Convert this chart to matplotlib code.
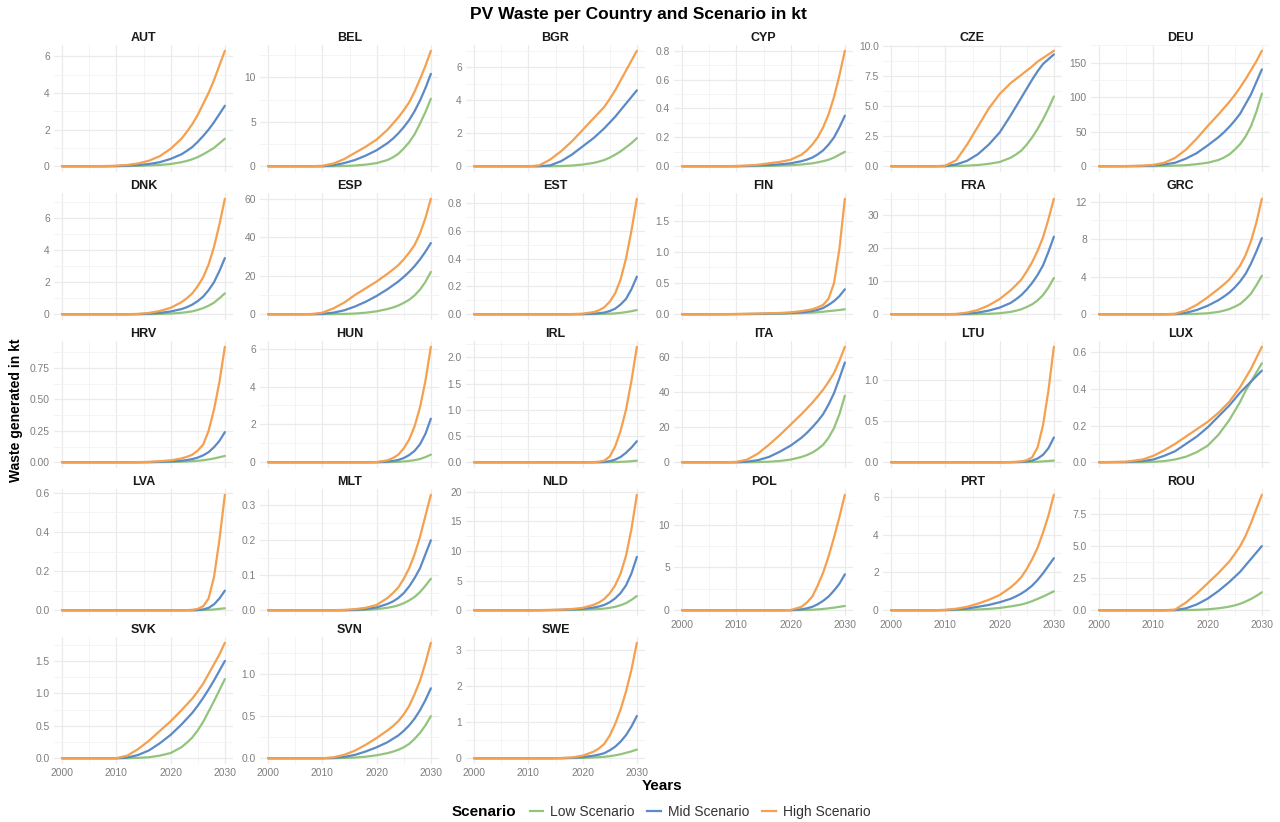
import matplotlib
matplotlib.use("Agg")
import matplotlib.pyplot as plt
from matplotlib.lines import Line2D
from matplotlib.ticker import FixedLocator, NullFormatter

plt.rcParams["font.family"] = ["Liberation Sans", "DejaVu Sans"]

# ---------------------------------------------------------------- data (kt)
YEARS = [2000, 2005, 2008, 2010, 2012, 2014, 2016, 2018, 2020, 2022,
         2023, 2024, 2025, 2026, 2027, 2028, 2029, 2030]

COUNTRIES = ["AUT", "BEL", "BGR", "CYP", "CZE", "DEU",
             "DNK", "ESP", "EST", "FIN", "FRA", "GRC",
             "HRV", "HUN", "IRL", "ITA", "LTU", "LUX",
             "LVA", "MLT", "NLD", "POL", "PRT", "ROU",
             "SVK", "SVN", "SWE"]

SCENARIOS = ["Low Scenario", "Mid Scenario", "High Scenario"]

LOW = {
    "AUT": [0, 0, 0, 0, 0.01, 0.02, 0.04, 0.07, 0.12, 0.22, 0.29, 0.38, 0.5, 0.65, 0.82, 1.0, 1.25, 1.5],
    "BEL": [0, 0, 0, 0, 0, 0.02, 0.08, 0.18, 0.35, 0.7, 1.0, 1.4, 2.0, 2.7, 3.6, 4.8, 6.1, 7.6],
    "BGR": [0, 0, 0, 0, 0, 0, 0.01, 0.04, 0.1, 0.2, 0.28, 0.38, 0.52, 0.7, 0.9, 1.15, 1.4, 1.7],
    "CYP": [0, 0, 0, 0, 0, 0.001, 0.002, 0.004, 0.007, 0.012, 0.016, 0.02, 0.027, 0.035, 0.045, 0.06, 0.08, 0.1],
    "CZE": [0, 0, 0, 0, 0.02, 0.05, 0.1, 0.2, 0.35, 0.7, 0.97, 1.3, 1.8, 2.4, 3.1, 3.9, 4.8, 5.8],
    "DEU": [0, 0, 0, 0.1, 0.3, 0.8, 1.5, 3, 5, 9, 12.5, 17, 24, 32, 43, 58, 79, 105],
    "DNK": [0, 0, 0, 0, 0, 0, 0.005, 0.015, 0.04, 0.09, 0.13, 0.18, 0.27, 0.38, 0.53, 0.72, 1.0, 1.3],
    "ESP": [0, 0, 0, 0, 0.05, 0.15, 0.35, 0.8, 1.5, 2.7, 3.5, 4.5, 5.9, 7.5, 9.8, 12.8, 16.8, 22],
    "EST": [0, 0, 0, 0, 0, 0, 0, 0, 0, 0.001, 0.0015, 0.002, 0.0038, 0.006, 0.01, 0.015, 0.022, 0.03],
    "FIN": [0, 0, 0, 0.001, 0.002, 0.003, 0.005, 0.008, 0.012, 0.018, 0.022, 0.026, 0.032, 0.04, 0.05, 0.058, 0.068, 0.08],
    "FRA": [0, 0, 0, 0, 0, 0, 0.03, 0.12, 0.3, 0.7, 1.05, 1.5, 2.2, 3, 4.2, 5.8, 8.1, 11],
    "GRC": [0, 0, 0, 0, 0, 0, 0.01, 0.04, 0.1, 0.25, 0.38, 0.55, 0.8, 1.1, 1.6, 2.2, 3.1, 4.1],
    "HRV": [0, 0, 0, 0, 0, 0, 0, 0.001, 0.002, 0.004, 0.0058, 0.008, 0.0115, 0.016, 0.022, 0.03, 0.04, 0.05],
    "HUN": [0, 0, 0, 0, 0, 0, 0, 0, 0, 0.005, 0.011, 0.02, 0.04, 0.07, 0.11, 0.17, 0.27, 0.4],
    "IRL": [0, 0, 0, 0, 0, 0, 0, 0, 0, 0, 0.0003, 0.001, 0.0022, 0.004, 0.007, 0.012, 0.02, 0.03],
    "ITA": [0, 0, 0, 0, 0, 0.1, 0.3, 0.7, 1.5, 3, 4.1, 5.5, 7.5, 10, 14, 19.5, 27.5, 38],
    "LTU": [0, 0, 0, 0, 0, 0, 0, 0, 0, 0, 0.0004, 0.001, 0.0018, 0.003, 0.006, 0.01, 0.015, 0.02],
    "LUX": [0, 0, 0, 0.002, 0.006, 0.015, 0.03, 0.055, 0.09, 0.15, 0.19, 0.23, 0.28, 0.33, 0.39, 0.44, 0.49, 0.54],
    "LVA": [0, 0, 0, 0, 0, 0, 0, 0, 0, 0, 0, 0, 0.0003, 0.001, 0.002, 0.004, 0.007, 0.01],
    "MLT": [0, 0, 0, 0, 0, 0, 0, 0.001, 0.003, 0.007, 0.01, 0.014, 0.02, 0.028, 0.038, 0.052, 0.07, 0.09],
    "NLD": [0, 0, 0, 0, 0, 0.01, 0.02, 0.04, 0.08, 0.15, 0.2, 0.28, 0.4, 0.58, 0.85, 1.2, 1.75, 2.4],
    "POL": [0, 0, 0, 0, 0, 0, 0, 0, 0, 0.02, 0.038, 0.06, 0.1, 0.15, 0.22, 0.3, 0.4, 0.5],
    "PRT": [0, 0, 0, 0, 0.01, 0.02, 0.04, 0.07, 0.12, 0.2, 0.25, 0.3, 0.38, 0.48, 0.6, 0.72, 0.86, 1.0],
    "ROU": [0, 0, 0, 0, 0, 0, 0.01, 0.03, 0.07, 0.15, 0.21, 0.28, 0.38, 0.5, 0.68, 0.88, 1.12, 1.4],
    "SVK": [0, 0, 0, 0, 0, 0.005, 0.015, 0.04, 0.08, 0.17, 0.24, 0.32, 0.43, 0.56, 0.72, 0.88, 1.05, 1.22],
    "SVN": [0, 0, 0, 0, 0, 0.003, 0.008, 0.018, 0.035, 0.06, 0.078, 0.1, 0.13, 0.17, 0.23, 0.3, 0.39, 0.5],
    "SWE": [0, 0, 0, 0, 0, 0, 0, 0.003, 0.01, 0.02, 0.029, 0.04, 0.057, 0.08, 0.11, 0.15, 0.19, 0.24],
}

MID = {
    "AUT": [0, 0, 0, 0.01, 0.03, 0.06, 0.12, 0.22, 0.4, 0.65, 0.84, 1.05, 1.33, 1.65, 2.0, 2.4, 2.85, 3.3],
    "BEL": [0, 0, 0, 0, 0.1, 0.35, 0.7, 1.2, 1.8, 2.6, 3.1, 3.7, 4.4, 5.2, 6.2, 7.4, 8.8, 10.4],
    "BGR": [0, 0, 0, 0, 0, 0.05, 0.3, 0.7, 1.2, 1.7, 2.0, 2.3, 2.65, 3.0, 3.4, 3.8, 4.2, 4.6],
    "CYP": [0, 0, 0, 0, 0.002, 0.005, 0.008, 0.013, 0.02, 0.035, 0.046, 0.06, 0.082, 0.11, 0.15, 0.2, 0.27, 0.35],
    "CZE": [0, 0, 0, 0.01, 0.15, 0.45, 1.0, 1.8, 2.8, 4.2, 4.95, 5.7, 6.45, 7.2, 7.9, 8.5, 8.9, 9.3],
    "DEU": [0, 0.1, 0.4, 1, 2.5, 5, 11, 19, 30, 42, 49, 57, 66, 76, 90, 104, 122, 140],
    "DNK": [0, 0, 0, 0, 0, 0.01, 0.03, 0.08, 0.17, 0.32, 0.44, 0.6, 0.82, 1.1, 1.5, 2.0, 2.7, 3.5],
    "ESP": [0, 0, 0, 0.2, 0.8, 2, 4, 6.5, 9.5, 13, 15, 17, 19.4, 22, 25, 28.5, 32.5, 37],
    "EST": [0, 0, 0, 0, 0, 0, 0, 0, 0.001, 0.004, 0.007, 0.012, 0.023, 0.04, 0.07, 0.11, 0.18, 0.27],
    "FIN": [0, 0, 0.001, 0.002, 0.004, 0.006, 0.009, 0.013, 0.02, 0.03, 0.039, 0.05, 0.07, 0.1, 0.15, 0.21, 0.29, 0.4],
    "FRA": [0, 0, 0, 0, 0, 0.15, 0.5, 1.1, 2, 3.4, 4.5, 5.8, 7.5, 9.5, 11.9, 14.8, 18.9, 23.5],
    "GRC": [0, 0, 0, 0, 0, 0.01, 0.15, 0.45, 0.9, 1.5, 1.88, 2.3, 2.85, 3.5, 4.3, 5.4, 6.7, 8.1],
    "HRV": [0, 0, 0, 0, 0, 0, 0.001, 0.003, 0.006, 0.012, 0.017, 0.025, 0.037, 0.055, 0.08, 0.12, 0.17, 0.24],
    "HUN": [0, 0, 0, 0, 0, 0, 0, 0, 0.003, 0.03, 0.065, 0.12, 0.22, 0.38, 0.6, 0.95, 1.5, 2.3],
    "IRL": [0, 0, 0, 0, 0, 0, 0, 0, 0, 0, 0.001, 0.005, 0.02, 0.05, 0.1, 0.18, 0.28, 0.4],
    "ITA": [0, 0, 0, 0, 0.3, 1.2, 3, 6, 9.5, 14, 16.8, 20, 23.5, 27.5, 33, 39.5, 48, 57],
    "LTU": [0, 0, 0, 0, 0, 0, 0, 0, 0, 0.001, 0.002, 0.004, 0.009, 0.02, 0.045, 0.09, 0.17, 0.3],
    "LUX": [0, 0.001, 0.006, 0.015, 0.035, 0.06, 0.1, 0.14, 0.19, 0.25, 0.28, 0.31, 0.345, 0.38, 0.41, 0.44, 0.47, 0.5],
    "LVA": [0, 0, 0, 0, 0, 0, 0, 0, 0, 0, 0, 0, 0.001, 0.004, 0.012, 0.03, 0.06, 0.1],
    "MLT": [0, 0, 0, 0, 0, 0, 0.001, 0.003, 0.008, 0.018, 0.025, 0.035, 0.049, 0.068, 0.092, 0.12, 0.16, 0.2],
    "NLD": [0, 0, 0, 0, 0.01, 0.03, 0.06, 0.12, 0.22, 0.45, 0.63, 0.9, 1.35, 2.0, 2.9, 4.2, 6.2, 9.0],
    "POL": [0, 0, 0, 0, 0, 0, 0, 0, 0.01, 0.1, 0.22, 0.4, 0.7, 1.1, 1.6, 2.3, 3.1, 4.2],
    "PRT": [0, 0, 0, 0.01, 0.04, 0.09, 0.18, 0.28, 0.42, 0.6, 0.73, 0.88, 1.07, 1.3, 1.6, 1.95, 2.35, 2.75],
    "ROU": [0, 0, 0, 0, 0, 0.01, 0.15, 0.45, 0.9, 1.5, 1.85, 2.2, 2.6, 3.0, 3.5, 4.0, 4.5, 5.0],
    "SVK": [0, 0, 0, 0, 0.01, 0.05, 0.12, 0.23, 0.36, 0.52, 0.61, 0.7, 0.81, 0.93, 1.06, 1.2, 1.35, 1.5],
    "SVN": [0, 0, 0, 0, 0.003, 0.015, 0.04, 0.08, 0.13, 0.19, 0.23, 0.27, 0.325, 0.39, 0.47, 0.57, 0.69, 0.83],
    "SWE": [0, 0, 0, 0, 0, 0, 0.002, 0.01, 0.03, 0.07, 0.1, 0.14, 0.22, 0.32, 0.46, 0.64, 0.88, 1.17],
}

HIGH = {
    "AUT": [0, 0, 0.01, 0.03, 0.07, 0.15, 0.3, 0.55, 0.95, 1.5, 1.88, 2.3, 2.8, 3.4, 4.0, 4.7, 5.5, 6.3],
    "BEL": [0, 0, 0, 0.05, 0.3, 0.8, 1.5, 2.2, 3.0, 4.1, 4.8, 5.5, 6.3, 7.2, 8.4, 9.8, 11.3, 13.0],
    "BGR": [0, 0, 0, 0, 0.05, 0.4, 0.9, 1.5, 2.2, 2.9, 3.25, 3.6, 4.08, 4.6, 5.2, 5.8, 6.4, 7.0],
    "CYP": [0, 0, 0, 0.002, 0.005, 0.01, 0.02, 0.03, 0.045, 0.08, 0.11, 0.15, 0.2, 0.27, 0.36, 0.48, 0.63, 0.8],
    "CZE": [0, 0, 0, 0.05, 0.5, 1.8, 3.3, 4.8, 6.0, 6.9, 7.25, 7.6, 7.95, 8.3, 8.7, 9.0, 9.3, 9.6],
    "DEU": [0, 0.2, 0.8, 2, 5, 12, 24, 40, 58, 75, 84, 93, 103, 114, 126, 139, 152, 167],
    "DNK": [0, 0, 0, 0, 0, 0.02, 0.08, 0.2, 0.4, 0.75, 1.0, 1.3, 1.75, 2.3, 3.1, 4.2, 5.6, 7.2],
    "ESP": [0, 0, 0.1, 0.8, 3, 6, 10, 13.5, 17, 21, 23.2, 25.5, 28.5, 32, 36, 42, 50, 60],
    "EST": [0, 0, 0, 0, 0, 0, 0, 0.001, 0.004, 0.015, 0.028, 0.05, 0.09, 0.15, 0.25, 0.4, 0.6, 0.83],
    "FIN": [0, 0.001, 0.002, 0.004, 0.007, 0.01, 0.015, 0.02, 0.03, 0.05, 0.063, 0.08, 0.11, 0.15, 0.25, 0.5, 1.05, 1.85],
    "FRA": [0, 0, 0, 0, 0.1, 0.5, 1.3, 2.7, 4.6, 7.2, 8.8, 10.5, 13, 15.8, 19.2, 23.3, 28.8, 35],
    "GRC": [0, 0, 0, 0, 0, 0.05, 0.4, 1.0, 1.8, 2.7, 3.17, 3.7, 4.4, 5.2, 6.3, 7.8, 9.8, 12.3],
    "HRV": [0, 0, 0, 0, 0, 0.001, 0.003, 0.008, 0.015, 0.03, 0.043, 0.06, 0.093, 0.14, 0.25, 0.42, 0.64, 0.92],
    "HUN": [0, 0, 0, 0, 0, 0, 0, 0, 0.01, 0.1, 0.22, 0.4, 0.73, 1.2, 1.9, 2.9, 4.3, 6.1],
    "IRL": [0, 0, 0, 0, 0, 0, 0, 0, 0, 0.003, 0.01, 0.03, 0.11, 0.3, 0.6, 1.0, 1.55, 2.2],
    "ITA": [0, 0, 0, 0.2, 1.5, 5, 10, 15.5, 21.5, 27.5, 30.7, 34, 37.7, 41.5, 46, 51, 58, 66],
    "LTU": [0, 0, 0, 0, 0, 0, 0, 0, 0, 0.002, 0.005, 0.01, 0.025, 0.06, 0.18, 0.45, 0.87, 1.4],
    "LUX": [0, 0.003, 0.015, 0.035, 0.065, 0.1, 0.14, 0.18, 0.22, 0.27, 0.3, 0.33, 0.37, 0.41, 0.46, 0.51, 0.57, 0.63],
    "LVA": [0, 0, 0, 0, 0, 0, 0, 0, 0, 0, 0.0005, 0.002, 0.007, 0.02, 0.06, 0.17, 0.36, 0.59],
    "MLT": [0, 0, 0, 0, 0, 0.001, 0.003, 0.007, 0.015, 0.035, 0.049, 0.065, 0.09, 0.12, 0.16, 0.21, 0.27, 0.33],
    "NLD": [0, 0, 0, 0, 0.02, 0.05, 0.1, 0.2, 0.4, 0.9, 1.3, 1.9, 2.85, 4.2, 6.2, 9.2, 13.7, 19.5],
    "POL": [0, 0, 0, 0, 0, 0, 0, 0, 0.02, 0.4, 0.9, 1.6, 2.9, 4.4, 6.3, 8.5, 10.9, 13.5],
    "PRT": [0, 0, 0, 0.02, 0.08, 0.18, 0.35, 0.55, 0.8, 1.2, 1.45, 1.75, 2.18, 2.7, 3.3, 4.1, 5.0, 6.1],
    "ROU": [0, 0, 0, 0, 0, 0.05, 0.6, 1.3, 2.1, 2.9, 3.35, 3.8, 4.38, 5.0, 5.8, 6.8, 7.9, 9.0],
    "SVK": [0, 0, 0, 0, 0.04, 0.14, 0.27, 0.42, 0.57, 0.74, 0.83, 0.92, 1.03, 1.15, 1.3, 1.45, 1.6, 1.78],
    "SVN": [0, 0, 0, 0, 0.01, 0.04, 0.09, 0.16, 0.24, 0.33, 0.38, 0.44, 0.52, 0.62, 0.76, 0.92, 1.13, 1.37],
    "SWE": [0, 0, 0, 0, 0, 0, 0.005, 0.02, 0.07, 0.18, 0.27, 0.4, 0.63, 0.95, 1.35, 1.85, 2.45, 3.2],
}

YTICKS = {
    "AUT": [0, 2, 4, 6], "BEL": [0, 5, 10], "BGR": [0, 2, 4, 6],
    "CYP": [0, 0.2, 0.4, 0.6, 0.8], "CZE": [0, 2.5, 5, 7.5, 10],
    "DEU": [0, 50, 100, 150], "DNK": [0, 2, 4, 6], "ESP": [0, 20, 40, 60],
    "EST": [0, 0.2, 0.4, 0.6, 0.8], "FIN": [0, 0.5, 1, 1.5],
    "FRA": [0, 10, 20, 30], "GRC": [0, 4, 8, 12],
    "HRV": [0, 0.25, 0.5, 0.75], "HUN": [0, 2, 4, 6],
    "IRL": [0, 0.5, 1, 1.5, 2], "ITA": [0, 20, 40, 60], "LTU": [0, 0.5, 1],
    "LUX": [0, 0.2, 0.4, 0.6], "LVA": [0, 0.2, 0.4, 0.6],
    "MLT": [0, 0.1, 0.2, 0.3], "NLD": [0, 5, 10, 15, 20], "POL": [0, 5, 10],
    "PRT": [0, 2, 4, 6], "ROU": [0, 2.5, 5, 7.5], "SVK": [0, 0.5, 1, 1.5],
    "SVN": [0, 0.5, 1], "SWE": [0, 1, 2, 3],
}
XTICKS = [2000, 2010, 2020, 2030]

COLORS = {"Low Scenario": "#93c47d", "Mid Scenario": "#5b8ac6",
          "High Scenario": "#f4a04f"}
SERIES = {"Low Scenario": LOW, "Mid Scenario": MID, "High Scenario": HIGH}


def decimals(values):
    out = 0
    for v in values:
        s = ("%.4f" % v).rstrip("0").rstrip(".")
        if "." in s:
            out = max(out, len(s.split(".")[1]))
    return out


# ---------------------------------------------------------------- layout
W, H = 1280, 822
fig = plt.figure(figsize=(W / 100, H / 100), dpi=100)
fig.patch.set_facecolor("white")

NCOL = 6
col_left = [54, 260, 466, 674, 883, 1091]
row_top = [45, 193, 341, 489, 637]
pw, ph = 179, 127
n = len(COUNTRIES)

grid_col = "#ebebeb"
tick_col = "#7f7f7f"

for i, c in enumerate(COUNTRIES):
    r, k = divmod(i, NCOL)
    ax = fig.add_axes([col_left[k] / W, 1 - (row_top[r] + ph) / H, pw / W, ph / H])
    ax.set_facecolor("white")
    for s in ax.spines.values():
        s.set_visible(False)

    top = max(max(LOW[c]), max(MID[c]), max(HIGH[c]))
    ax.set_xlim(1998.5, 2031.5)
    ax.set_ylim(-0.05 * top, 1.05 * top)

    yt = YTICKS[c]
    step = yt[1] - yt[0]
    minors = [(a + b) / 2 for a, b in zip(yt[:-1], yt[1:])]
    if yt[-1] + step / 2 <= 1.05 * top:
        minors.append(yt[-1] + step / 2)
    ax.yaxis.set_major_locator(FixedLocator(yt))
    ax.yaxis.set_minor_locator(FixedLocator(minors))
    d = decimals(yt)
    ax.set_yticklabels([f"{v:.{d}f}" for v in yt])

    ax.xaxis.set_major_locator(FixedLocator(XTICKS))
    ax.xaxis.set_minor_locator(FixedLocator([2005, 2015, 2025]))

    ax.grid(which="major", color=grid_col, lw=0.9)
    ax.grid(which="minor", color="#f3f3f3", lw=0.6)
    ax.set_axisbelow(True)
    ax.tick_params(which="both", length=0, labelsize=7.4, labelcolor=tick_col, pad=3)

    # x labels only on the lowest panel of each column
    if i + NCOL >= n:
        ax.set_xticklabels([str(x) for x in XTICKS])
    else:
        ax.xaxis.set_major_formatter(NullFormatter())

    for name in SCENARIOS:
        ax.plot(YEARS, SERIES[name][c], color=COLORS[name], lw=1.6,
                solid_capstyle="round", solid_joinstyle="round")

    ax.set_title(c, fontsize=9, fontweight="bold", pad=3, color="#1a1a1a")

# ---------------------------------------------------------------- titles
fig.text(638 / W, 1 - 15 / H, "PV Waste per Country and Scenario in kt",
         ha="center", va="center", fontsize=12.5, fontweight="bold")
fig.text(16 / W, 1 - 410 / H, "Waste generated in kt", rotation=90,
         ha="center", va="center", fontsize=10, fontweight="bold")
fig.text(662 / W, 1 - 786 / H, "Years", ha="center", va="center",
         fontsize=11, fontweight="bold")

# ---------------------------------------------------------------- legend
handles = [Line2D([0], [0], color=COLORS[s], lw=1.6) for s in SCENARIOS]
fig.text(516 / W, 1 - 812 / H, "Scenario", ha="right", va="center",
         fontsize=11, fontweight="bold")
fig.legend(handles, SCENARIOS, loc="center", bbox_to_anchor=(700 / W, 1 - 812 / H),
           ncol=3, frameon=False, handlelength=1.0, handletextpad=0.5,
           columnspacing=0.9, fontsize=10, labelcolor="#333333")

fig.savefig("out.png", dpi=100, facecolor="white")
